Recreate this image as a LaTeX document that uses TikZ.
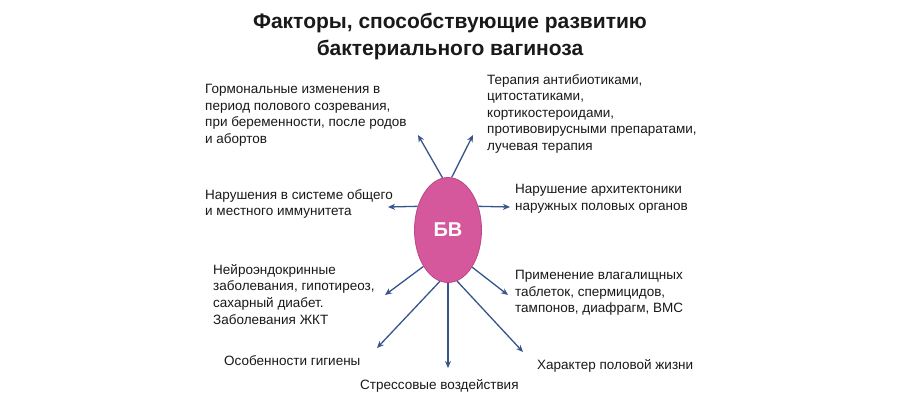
\documentclass[tikz,border=0pt]{standalone}
\usepackage{fontspec}
\setmainfont{Liberation Sans}
\usetikzlibrary{shapes.geometric,arrows.meta}
\definecolor{bvfill}{RGB}{214,88,156}
\definecolor{bvedge}{RGB}{190,70,135}
\definecolor{arr}{RGB}{55,85,140}
\definecolor{txt}{RGB}{25,25,25}
\begin{document}
\begin{tikzpicture}[x=1pt,y=-1pt,
  lbl/.style={inner sep=0pt,anchor=north west,align=left,font=\fontsize{13.5}{16.6}\selectfont,text=txt},
  ttl/.style={inner sep=0pt,align=center,font=\fontsize{21}{27}\selectfont\bfseries,text=txt},
  arw/.style={draw=arr,line width=1.3pt,-{Stealth[length=7pt,width=6pt]}}]
\useasboundingbox (0,0) rectangle (900,400);
\fill[white] (0,0) rectangle (900,400);
\node[ttl] (title) at (450,36) {Факторы, способствующие развитию\\бактериального вагиноза};
\node[draw=bvedge,line width=0.8pt,fill=bvfill,ellipse,minimum width=67pt,minimum height=105pt,inner sep=0pt,
  font=\fontsize{20}{24}\selectfont\bfseries,text=white] (bv) at (448,230) {БВ};
\node[lbl] (t1) at (205,84) {Гормональные изменения в\\период полового созревания,\\при беременности, после родов\\и абортов};
\node[lbl] (t2) at (487,74) {Терапия антибиотиками,\\цитостатиками,\\кортикостероидами,\\противовирусными препаратами,\\лучевая терапия};
\node[lbl] (t3) at (205,189) {Нарушения в системе общего\\и местного иммунитета};
\node[lbl] (t4) at (515,184) {Нарушение архитектоники\\наружных половых органов};
\node[lbl] (t5) at (213,264) {Нейроэндокринные\\заболевания, гипотиреоз,\\сахарный диабет.\\Заболевания ЖКТ};
\node[lbl] (t6) at (515,270) {Применение влагалищных\\таблеток, спермицидов,\\тампонов, диафрагм, ВМС};
\node[lbl] (t7) at (224,355) {Особенности гигиены};
\node[lbl] (t8) at (360,379) {Стрессовые воздействия};
\node[lbl] (t9) at (537,359) {Характер половой жизни};
\coordinate (e1) at (418,135);
\coordinate (e2) at (473,135);
\coordinate (e3) at (388,207);
\coordinate (e4) at (510,207);
\coordinate (e5) at (385,295);
\coordinate (e6) at (377,348);
\coordinate (e7) at (448,368);
\coordinate (e8) at (523,352);
\coordinate (e9) at (508,295);
\draw[arw] (bv.96) -- (e1);
\draw[arw] (bv.86) -- (e2);
\draw[arw] (bv.142) -- (e3);
\draw[arw] (bv.38) -- (e4);
\draw[arw] (bv.-124) -- (e5);
\draw[arw] (bv.-99) -- (e6);
\draw[arw] (bv.-90) -- (e7);
\draw[arw] (bv.-80) -- (e8);
\draw[arw] (bv.-57) -- (e9);
\end{tikzpicture}
\end{document}
